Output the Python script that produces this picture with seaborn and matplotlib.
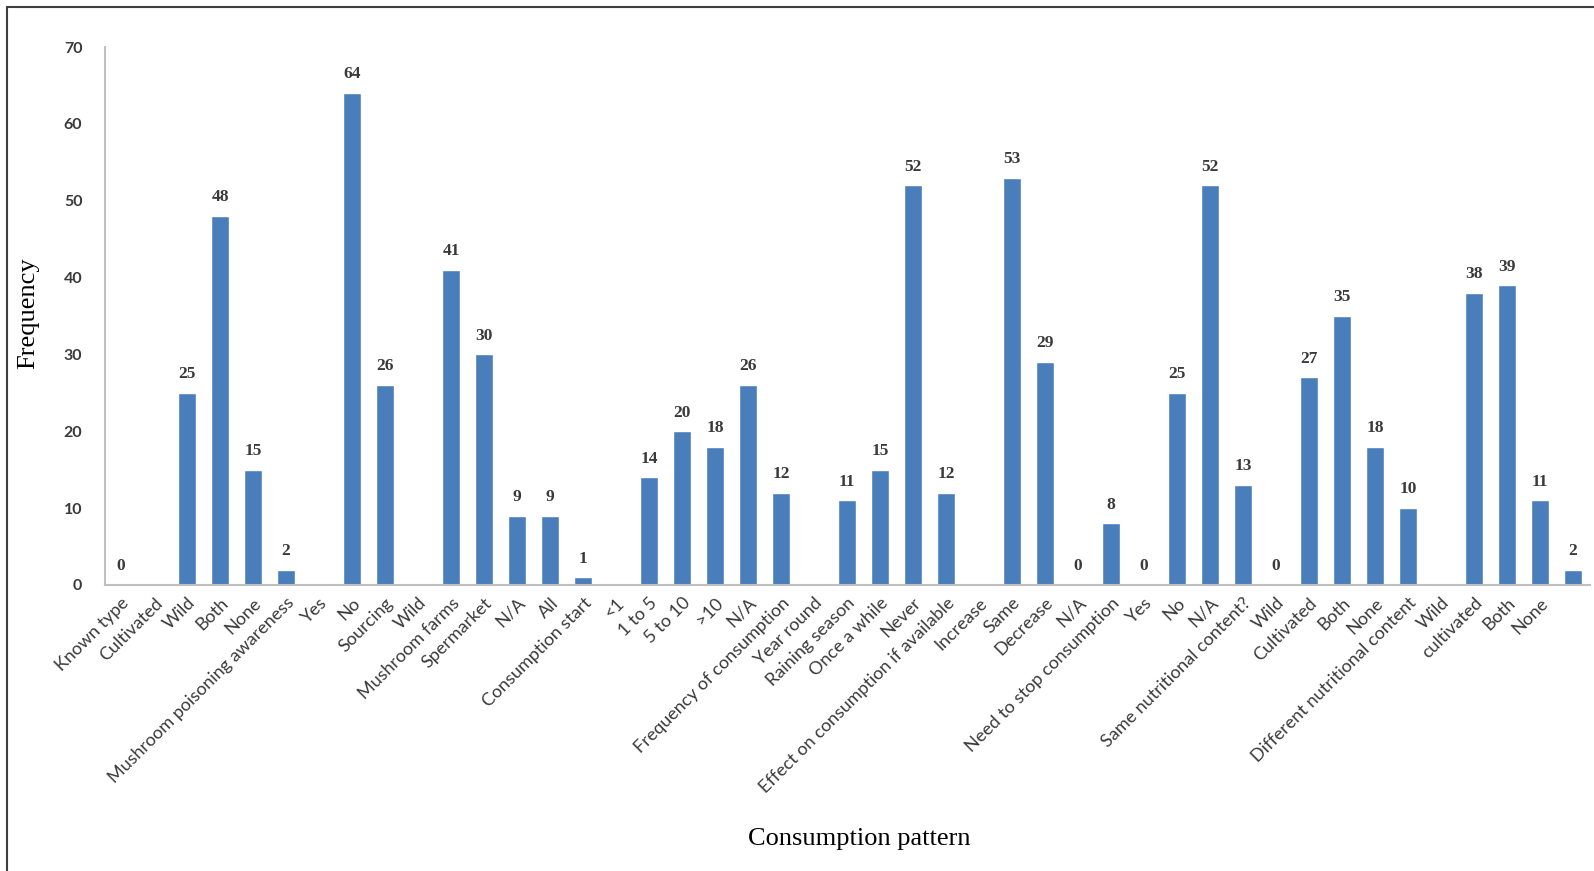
import numpy as np
import pandas as pd
import matplotlib
matplotlib.use("Agg")
import matplotlib.pyplot as plt
from matplotlib.lines import Line2D
import seaborn as sns

# Survey answers as laid out along the x axis
categories = [
    "Known type", "Cultivated", "Wild", "Both", "None",
    "Mushroom poisoning awareness", "Yes", "No", "Sourcing", "Wild",
    "Mushroom farms", "Spermarket", "N/A", "All", "Consumption start",
    "<1", "1 to 5", "5 to 10", ">10", "N/A",
    "Frequency of consumption", "Year round", "Raining season", "Once a while", "Never",
    "Effect on consumption if available", "Increase", "Same", "Decrease", "N/A",
    "Need to stop consumption", "Yes", "No", "N/A", "Same nutritional content?",
    "Wild", "Cultivated", "Both", "None", "Different nutritional content",
    "Wild", "cultivated", "Both", "None", "",
]

# Response counts (NaN = no entry for that row)
frequency = [
    0, np.nan, 25, 48, 15,
    2, np.nan, 64, 26, np.nan,
    41, 30, 9, 9, 1,
    np.nan, 14, 20, 18, 26,
    12, np.nan, 11, 15, 52,
    12, np.nan, 53, 29, 0,
    8, 0, 25, 52, 13,
    0, 27, 35, 18, 10,
    np.nan, 38, 39, 11, 2,
]

yticks = [0, 10, 20, 30, 40, 50, 60, 70]

df = pd.DataFrame({
    "pos": np.arange(len(categories)),
    "label": categories,
    "count": frequency,
})

sns.set_theme(style="white")
plt.rcParams["font.family"] = ["Lato", "DejaVu Sans"]

fig = plt.figure(figsize=(15.94, 8.71), dpi=100)
ax = fig.add_axes([0.0656, 0.3284, 0.9316, 0.6176])

bar_color = "#4a7ebb"
text_color = "#3a3a3a"

sns.barplot(
    data=df.dropna(subset=["count"]), x="pos", y="count",
    order=list(df["pos"]), color=bar_color, width=0.55,
    saturation=1, ax=ax, errorbar=None,
)

# Value labels above each bar
for p, v in zip(df["pos"], df["count"]):
    if np.isnan(v):
        continue
    ax.annotate(f"{int(v)}", xy=(p, v), xytext=(0, 13.5),
                textcoords="offset points", ha="center", va="center",
                fontsize=12.5, fontweight="bold", color=text_color,
                family=["Liberation Serif", "DejaVu Serif"])

ax.set_ylim(0, 70)
ax.set_xlim(-0.5, len(categories) - 0.5)
ax.set_yticks(yticks)
ax.set_yticklabels([str(t) for t in yticks], fontsize=11.5,
                   fontweight="bold", color=text_color)
ax.set_xticks(df["pos"])
ax.set_xticklabels(df["label"], rotation=45, ha="right",
                   rotation_mode="anchor", fontsize=13, color=text_color)
ax.tick_params(axis="both", length=0)
ax.tick_params(axis="y", pad=16)
ax.tick_params(axis="x", pad=7)

for side in ["top", "right"]:
    ax.spines[side].set_visible(False)
for side in ["left", "bottom"]:
    ax.spines[side].set_color("#c0c0c0")
    ax.spines[side].set_linewidth(1.5)

ax.set_xlabel("")
ax.set_ylabel("")
fig.text(0.018, 1 - 313 / 871, "Frequency", rotation=90, ha="center",
         va="center", fontsize=19, color="black",
         family=["Liberation Serif", "DejaVu Serif"])
fig.text(0.539, 32 / 871, "Consumption pattern", ha="center", va="center",
         fontsize=19, color="black",
         family=["Liberation Serif", "DejaVu Serif"])

# Outer frame (top and left edges)
y_top = 1 - 7 / 871
x_left = 7 / 1594
fig.add_artist(Line2D([x_left, 1.0], [y_top, y_top], transform=fig.transFigure,
                      color="#404040", linewidth=1.5))
fig.add_artist(Line2D([x_left, x_left], [0.0, y_top], transform=fig.transFigure,
                      color="#404040", linewidth=1.5))

fig.savefig("out.png", dpi=100, facecolor="white")
